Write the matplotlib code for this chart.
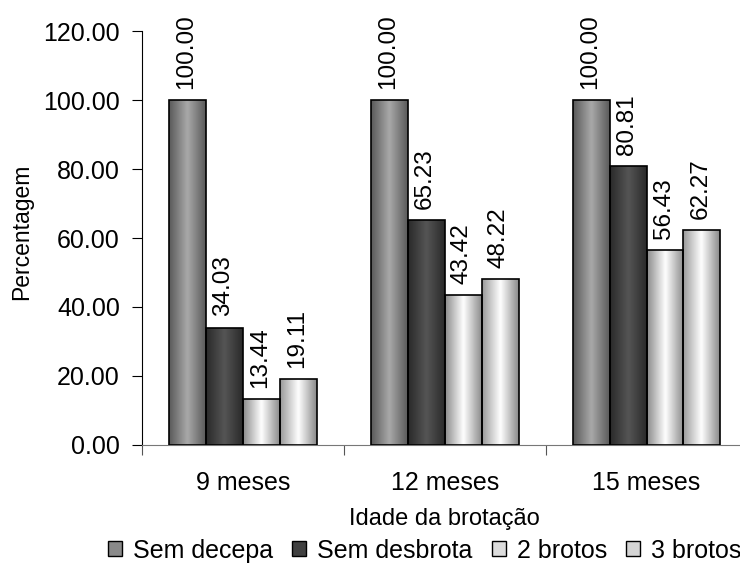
import numpy as np
import matplotlib
matplotlib.use('Agg')
import matplotlib.pyplot as plt
from matplotlib.colors import LinearSegmentedColormap
from matplotlib.patches import Patch

plt.rcParams['font.family'] = ['Liberation Sans', 'DejaVu Sans']

# Data
groups = ['9 meses', '12 meses', '15 meses']
series = ['Sem decepa', 'Sem desbrota', '2 brotos', '3 brotos']
sem_decepa = [100.00, 100.00, 100.00]
sem_desbrota = [34.03, 65.23, 80.81]
dois_brotos = [13.44, 43.42, 56.43]
tres_brotos = [19.11, 48.22, 62.27]
values = [sem_decepa, sem_desbrota, dois_brotos, tres_brotos]

# Horizontal gradients (edge -> centre -> edge) for a cylinder-like look
gradients = [
    ['#5a5a5a', '#a9a9a9', '#5a5a5a'],
    ['#2a2a2a', '#555555', '#2a2a2a'],
    ['#8c8c8c', '#ffffff', '#8c8c8c'],
    ['#9a9a9a', '#ffffff', '#8a8a8a'],
]
legend_colors = ['#8a8a8a', '#404040', '#dcdcdc', '#d4d4d4']

fig = plt.figure(figsize=(7.4, 5.66), dpi=100)
ax = fig.add_axes([0.192, 0.2138, 0.818, 0.7314])

x = np.arange(len(groups))
width = 0.183
grad = np.linspace(0, 1, 64).reshape(1, -1)

for i, vals in enumerate(values):
    cmap = LinearSegmentedColormap.from_list('g%d' % i, gradients[i])
    pos = x + (i - 1.5) * width
    bars = ax.bar(pos, vals, width, facecolor='none', edgecolor='black',
                  linewidth=1.2, zorder=3)
    for b, v in zip(bars, vals):
        im = ax.imshow(grad, cmap=cmap, aspect='auto', zorder=2,
                       extent=(b.get_x(), b.get_x() + b.get_width(), 0, v),
                       interpolation='bicubic')
        im.set_clip_path(b)
        ax.annotate('%.2f' % v, (b.get_x() + b.get_width() / 2, v),
                    xytext=(-1, 8), textcoords='offset points',
                    rotation=90, ha='center', va='bottom', fontsize=17.5)

ax.set_xlim(-0.5, 2.5)
ax.set_ylim(0, 120)
ax.set_yticks(np.arange(0, 121, 20))
ax.set_yticklabels(['%.2f' % t for t in np.arange(0, 121, 20)], fontsize=18)
ax.set_xticks([-0.5, 0.5, 1.5, 2.5])
ax.set_xticklabels([])
ax.set_xticks(x, minor=True)
ax.set_xticklabels(groups, minor=True, fontsize=18)
ax.tick_params(axis='x', which='minor', length=0, pad=19)
ax.tick_params(axis='x', which='major', length=7, direction='out', color='#555555')
ax.tick_params(axis='y', length=7, direction='out', pad=9)
ax.spines['top'].set_visible(False)
ax.spines['right'].set_visible(False)
ax.spines['bottom'].set_color('#777777')
ax.set_ylabel('Percentagem', fontsize=16.5)
ax.yaxis.set_label_coords(-0.18, 0.515)
ax.set_xlabel('Idade da brotação', fontsize=17, labelpad=9)

handles = [Patch(facecolor=legend_colors[i], edgecolor='black', label=series[i])
           for i in range(4)]
fig.legend(handles=handles, loc='center left', bbox_to_anchor=(0.146, 0.027),
           ncol=4, frameon=False, fontsize=18, handlelength=0.56,
           handleheight=0.56, handletextpad=0.44, columnspacing=0.76,
           borderpad=0, borderaxespad=0)

fig.savefig('out.png', dpi=100)
